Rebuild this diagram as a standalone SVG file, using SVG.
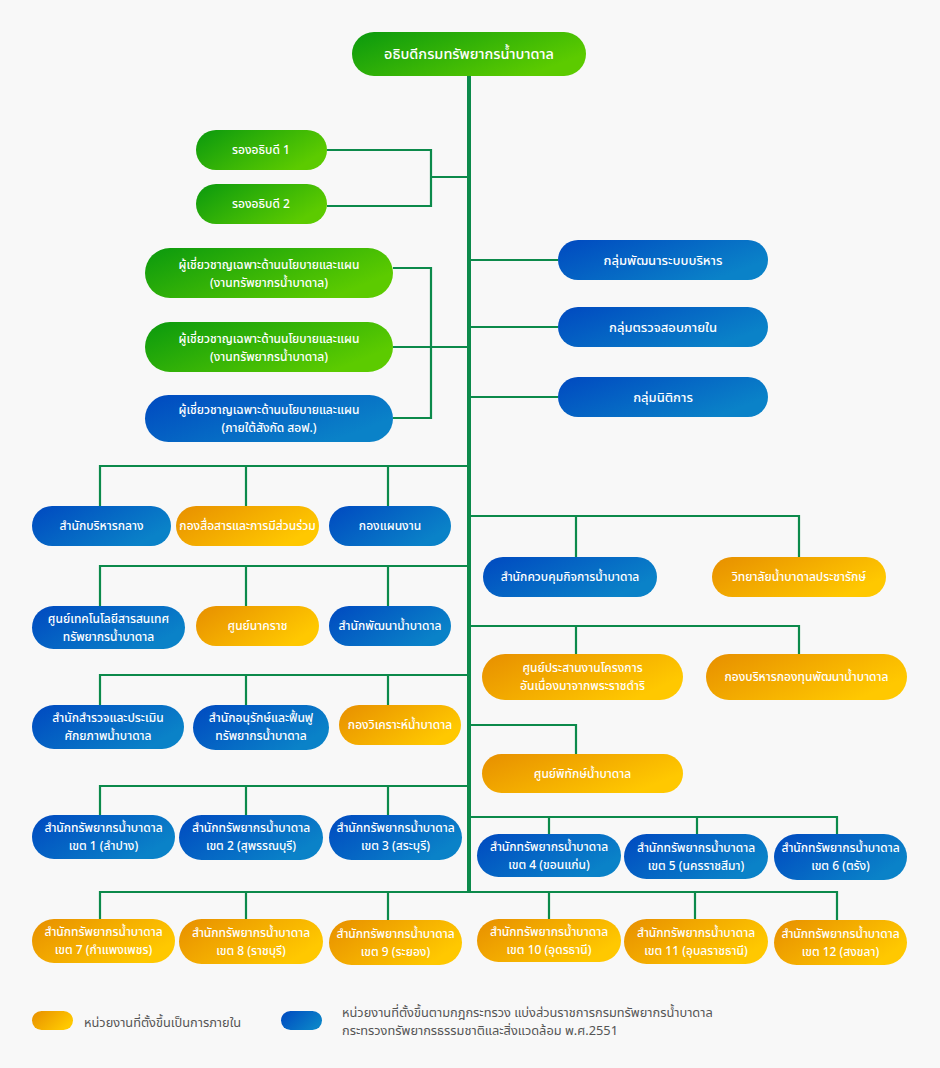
<svg xmlns="http://www.w3.org/2000/svg" width="940" height="1068" viewBox="0 0 940 1068">
<defs>
<linearGradient id="gG" x1="0" y1="0" x2="1" y2="0.5"><stop offset="0" stop-color="#0a990e"/><stop offset="1" stop-color="#5ccb00"/></linearGradient>
<linearGradient id="gB" x1="0" y1="0" x2="1" y2="0.5"><stop offset="0" stop-color="#0049c0"/><stop offset="1" stop-color="#0a82c8"/></linearGradient>
<linearGradient id="gO" x1="0" y1="0" x2="1" y2="0.5"><stop offset="0" stop-color="#e78f00"/><stop offset="1" stop-color="#ffc800"/></linearGradient>
<style>
text{font-family:"Noto Sans Thai","Noto Sans Thai UI","Noto Sans","DejaVu Sans",sans-serif;}
.n text{fill:#fff;font-size:12px;font-weight:500;text-anchor:middle;}
.g rect{fill:url(#gG);}
.b rect{fill:url(#gB);}
.o rect{fill:url(#gO);}
.c path{fill:none;stroke:#0c8a4b;stroke-width:2.2;}
.c .trunk{stroke-width:4;}
.lg{fill:#555;font-size:12.8px;}
.big text{font-size:13px;}
</style>
</defs>
<rect width="940" height="1068" fill="#f8f8f8"/>
<g id="connectors" class="c">
<path class="trunk" d="M469 76V893"/>
<path d="M327 150H431V206H327M431 177H469"/>
<path d="M393 268H431V418H393M393 347H469"/>
<path d="M469 260H558M469 327H558M469 397H558"/>
<path d="M469 466H100V506M246 466V506M388 466V506"/>
<path d="M469 566H100V606M246 566V606M388 566V606"/>
<path d="M469 675H100V705M246 675V705M388 675V705"/>
<path d="M469 786H100V815M246 786V815M388 786V815"/>
<path d="M100 919V892H837V920M246 892V919M388 892V920M549 892V919M695 892V919"/>
<path d="M469 516H799V557M576 516V557"/>
<path d="M469 626H799V654M576 626V654"/>
<path d="M469 725H576V754"/>
<path d="M469 817H837V834M549 817V834M697 817V834"/>
</g>
<g id="director" class="n g"><rect x="352" y="32" width="234" height="44" rx="22"/><text x="469" y="59" style="font-size:14.5px">อธิบดีกรมทรัพยากรน้ำบาดาล</text></g>
<g id="deputy1" class="n g"><rect x="196" y="130" width="131" height="40" rx="20"/><text x="261" y="154">รองอธิบดี 1</text></g>
<g id="deputy2" class="n g"><rect x="196" y="184" width="131" height="40" rx="20"/><text x="261" y="208">รองอธิบดี 2</text></g>
<g id="expert1" class="n g"><rect x="145" y="248" width="248" height="50" rx="25"/><text x="269" y="269">ผู้เชี่ยวชาญเฉพาะด้านนโยบายและแผน</text><text x="269" y="287">(งานทรัพยากรน้ำบาดาล)</text></g>
<g id="expert2" class="n g"><rect x="145" y="322" width="248" height="50" rx="25"/><text x="269" y="343">ผู้เชี่ยวชาญเฉพาะด้านนโยบายและแผน</text><text x="269" y="361">(งานทรัพยากรน้ำบาดาล)</text></g>
<g id="expert3" class="n b"><rect x="145" y="395" width="248" height="47" rx="23.5"/><text x="269" y="414">ผู้เชี่ยวชาญเฉพาะด้านนโยบายและแผน</text><text x="269" y="432">(ภายใต้สังกัด สอฟ.)</text></g>
<g id="grp1" class="n b big"><rect x="558" y="240" width="210" height="40" rx="20"/><text x="663" y="264.5">กลุ่มพัฒนาระบบบริหาร</text></g>
<g id="grp2" class="n b big"><rect x="558" y="307" width="210" height="40" rx="20"/><text x="663" y="331.5">กลุ่มตรวจสอบภายใน</text></g>
<g id="grp3" class="n b big"><rect x="558" y="377" width="210" height="40" rx="20"/><text x="663" y="401.5">กลุ่มนิติการ</text></g>
<g id="n10" class="n b"><rect x="32" y="506" width="139" height="40" rx="20"/><text x="101.5" y="530">สำนักบริหารกลาง</text></g>
<g id="n11" class="n o"><rect x="176" y="506" width="143" height="40" rx="20"/><text x="247.5" y="530">กองสื่อสารและการมีส่วนร่วม</text></g>
<g id="n12" class="n b"><rect x="329" y="506" width="122" height="40" rx="20"/><text x="390" y="530">กองแผนงาน</text></g>
<g id="n13" class="n b"><rect x="32" y="606" width="153" height="43" rx="21.5"/><text x="108.5" y="623">ศูนย์เทคโนโลยีสารสนเทศ</text><text x="108.5" y="641">ทรัพยากรน้ำบาดาล</text></g>
<g id="n14" class="n o"><rect x="196" y="606" width="123" height="40" rx="20"/><text x="257.5" y="630">ศูนย์นาคราช</text></g>
<g id="n15" class="n b"><rect x="329" y="606" width="122" height="40" rx="20"/><text x="390" y="630">สำนักพัฒนาน้ำบาดาล</text></g>
<g id="n16" class="n b"><rect x="32" y="705" width="152" height="44" rx="22"/><text x="108" y="722">สำนักสำรวจและประเมิน</text><text x="108" y="740">ศักยภาพน้ำบาดาล</text></g>
<g id="n17" class="n b"><rect x="193" y="705" width="136" height="45" rx="22.5"/><text x="261" y="722">สำนักอนุรักษ์และฟื้นฟู</text><text x="261" y="740">ทรัพยากรน้ำบาดาล</text></g>
<g id="n18" class="n o"><rect x="339" y="705" width="122" height="40" rx="20"/><text x="400" y="729">กองวิเคราะห์น้ำบาดาล</text></g>
<g id="z1" class="n b"><rect x="32" y="815" width="143" height="44" rx="22"/><text x="103.5" y="832">สำนักทรัพยากรน้ำบาดาล</text><text x="103.5" y="850">เขต 1 (ลำปาง)</text></g>
<g id="z2" class="n b"><rect x="179" y="815" width="144" height="45" rx="22.5"/><text x="251" y="832">สำนักทรัพยากรน้ำบาดาล</text><text x="251" y="850">เขต 2 (สุพรรณบุรี)</text></g>
<g id="z3" class="n b"><rect x="329" y="815" width="133" height="45" rx="22.5"/><text x="395.5" y="832">สำนักทรัพยากรน้ำบาดาล</text><text x="395.5" y="850">เขต 3 (สระบุรี)</text></g>
<g id="z7" class="n o"><rect x="32" y="919" width="143" height="44" rx="22"/><text x="103.5" y="936">สำนักทรัพยากรน้ำบาดาล</text><text x="103.5" y="954">เขต 7 (กำแพงเพชร)</text></g>
<g id="z8" class="n o"><rect x="179" y="919" width="144" height="45" rx="22.5"/><text x="251" y="937">สำนักทรัพยากรน้ำบาดาล</text><text x="251" y="955">เขต 8 (ราชบุรี)</text></g>
<g id="z9" class="n o"><rect x="329" y="920" width="133" height="45" rx="22.5"/><text x="395.5" y="938">สำนักทรัพยากรน้ำบาดาล</text><text x="395.5" y="956">เขต 9 (ระยอง)</text></g>
<g id="n25" class="n b"><rect x="483" y="557" width="174" height="40" rx="20"/><text x="570" y="581">สำนักควบคุมกิจการน้ำบาดาล</text></g>
<g id="n26" class="n o"><rect x="712" y="557" width="174" height="40" rx="20"/><text x="799" y="581">วิทยาลัยน้ำบาดาลประชารักษ์</text></g>
<g id="n27" class="n o"><rect x="482" y="654" width="201" height="46" rx="23"/><text x="582.5" y="672">ศูนย์ประสานงานโครงการ</text><text x="582.5" y="690">อันเนื่องมาจากพระราชดำริ</text></g>
<g id="n28" class="n o"><rect x="706" y="654" width="201" height="46" rx="23"/><text x="806.5" y="681">กองบริหารกองทุนพัฒนาน้ำบาดาล</text></g>
<g id="n29" class="n o"><rect x="482" y="754" width="201" height="39" rx="19.5"/><text x="582.5" y="778">ศูนย์พิทักษ์น้ำบาดาล</text></g>
<g id="z4" class="n b"><rect x="477" y="834" width="144" height="43" rx="21.5"/><text x="549" y="851">สำนักทรัพยากรน้ำบาดาล</text><text x="549" y="869">เขต 4 (ขอนแก่น)</text></g>
<g id="z5" class="n b"><rect x="624" y="834" width="144" height="45" rx="22.5"/><text x="696" y="852">สำนักทรัพยากรน้ำบาดาล</text><text x="696" y="870">เขต 5 (นครราชสีมา)</text></g>
<g id="z6" class="n b"><rect x="774" y="834" width="133" height="46" rx="23"/><text x="840.5" y="852">สำนักทรัพยากรน้ำบาดาล</text><text x="840.5" y="870">เขต 6 (ตรัง)</text></g>
<g id="z10" class="n o"><rect x="477" y="919" width="144" height="43" rx="21.5"/><text x="549" y="936">สำนักทรัพยากรน้ำบาดาล</text><text x="549" y="954">เขต 10 (อุดรธานี)</text></g>
<g id="z11" class="n o"><rect x="624" y="919" width="144" height="45" rx="22.5"/><text x="696" y="937">สำนักทรัพยากรน้ำบาดาล</text><text x="696" y="955">เขต 11 (อุบลราชธานี)</text></g>
<g id="z12" class="n o"><rect x="774" y="920" width="133" height="45" rx="22.5"/><text x="840.5" y="938">สำนักทรัพยากรน้ำบาดาล</text><text x="840.5" y="956">เขต 12 (สงขลา)</text></g>
<g id="legend">
<rect x="32" y="1011" width="41" height="19" rx="9.5" fill="url(#gO)"/>
<text class="lg" x="84" y="1027">หน่วยงานที่ตั้งขึ้นเป็นการภายใน</text>
<rect x="281" y="1011" width="41" height="19" rx="9.5" fill="url(#gB)"/>
<text class="lg" x="342" y="1017">หน่วยงานที่ตั้งขึ้นตามกฎกระทรวง แบ่งส่วนราชการกรมทรัพยากรน้ำบาดาล</text>
<text class="lg" x="342" y="1035">กระทรวงทรัพยากรธรรมชาติและสิ่งแวดล้อม พ.ศ.2551</text>
</g>
</svg>
